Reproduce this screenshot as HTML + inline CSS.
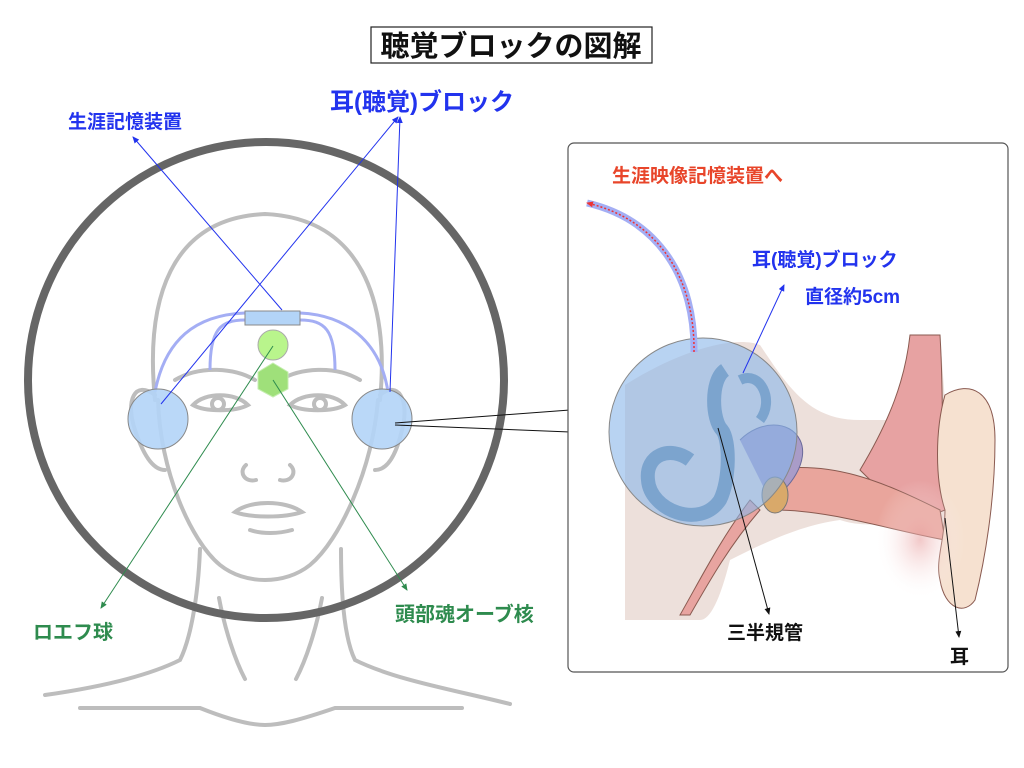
<!DOCTYPE html>
<html><head><meta charset="utf-8"><style>
html,body{margin:0;padding:0;background:#fff;}
svg{display:block;font-family:"Liberation Sans","Noto Sans CJK JP",sans-serif;font-weight:bold;}
</style></head><body>
<svg width="1024" height="768" viewBox="0 0 1024 768" xmlns="http://www.w3.org/2000/svg">
<defs>
<marker id="ab" markerWidth="8" markerHeight="8" refX="6" refY="4" orient="auto" markerUnits="userSpaceOnUse"><path d="M0,1 L7,4 L0,7z" fill="#2233ee"/></marker>
<marker id="ag" markerWidth="8" markerHeight="8" refX="6" refY="4" orient="auto" markerUnits="userSpaceOnUse"><path d="M0,1 L7,4 L0,7z" fill="#2e8b4e"/></marker>
<marker id="ak" markerWidth="8" markerHeight="8" refX="6" refY="4" orient="auto" markerUnits="userSpaceOnUse"><path d="M0,1 L7,4 L0,7z" fill="#111"/></marker>
<marker id="ar" markerWidth="8" markerHeight="8" refX="6" refY="4" orient="auto" markerUnits="userSpaceOnUse"><path d="M0,1 L7,4 L0,7z" fill="#e33"/></marker>
<radialGradient id="pk" cx="0.5" cy="0.5" r="0.5"><stop offset="0" stop-color="#e9a4a4"/><stop offset="1" stop-color="#fff" stop-opacity="0"/></radialGradient>
</defs>

<rect x="371" y="27" width="281" height="36" fill="#fff" stroke="#222" stroke-width="1.2"/>
<text x="511" y="56" font-size="29" text-anchor="middle" fill="#111">聴覚ブロックの図解</text>

<g fill="none" stroke="#bdbdbd" stroke-width="4" stroke-linecap="round">
<path d="M155,400 C145,300 170,218 265,214 C360,218 390,300 380,400"/>
<path d="M158,400 C160,470 190,540 220,565 C245,585 285,585 310,565 C340,540 372,470 378,400"/>
<path d="M155,395 C135,380 125,400 135,430 C145,460 155,470 165,470"/>
<path d="M380,395 C398,380 410,400 402,430 C395,460 385,470 375,470"/>
<path d="M175,380 C200,365 235,368 255,380"/>
<path d="M280,380 C300,368 335,365 360,380"/>
<path d="M193,405 C205,392 235,392 248,405 C235,412 205,412 193,405z"/>
<circle cx="218" cy="404" r="6"/>
<path d="M290,405 C303,392 333,392 345,405 C333,412 303,412 290,405z"/>
<circle cx="320" cy="404" r="6"/>
<path d="M246,465 C238,472 245,483 256,480"/>
<path d="M290,465 C298,472 291,483 280,480"/>
<path d="M235,512 C250,500 285,500 302,512 C285,518 250,518 235,512z"/>
<path d="M250,530 C262,534 278,534 292,530"/>
<path d="M200,549 C198,600 190,640 180,660 C140,680 80,690 45,695"/>
<path d="M341,549 C341,600 345,640 355,660 C395,680 455,690 510,704"/>
<path d="M219,598 C225,630 235,660 245,679"/>
<path d="M322,598 C316,630 306,660 296,679"/>
<path d="M80,708 L200,708 C230,720 250,725 265,725 C280,725 300,720 335,708 L462,708"/>
</g>
<circle cx="266" cy="380" r="238" fill="none" stroke="#666" stroke-width="8"/>

<g fill="none" stroke="#a4aef4" stroke-width="3">
<path d="M155,392 C165,340 195,315 245,313"/>
<path d="M210,370 C210,330 220,320 245,320"/>
<path d="M388,392 C380,340 345,315 300,313"/>
<path d="M335,370 C335,330 325,320 300,320"/>
</g>
<rect x="245" y="311" width="55" height="14" fill="#b3d4f7" stroke="#888" stroke-width="1"/>
<circle cx="158" cy="419" r="30" fill="#b3d4f7" fill-opacity="0.9" stroke="#888" stroke-width="1"/>
<circle cx="382" cy="419" r="30" fill="#b3d4f7" fill-opacity="0.9" stroke="#888" stroke-width="1"/>
<circle cx="273" cy="345" r="15" fill="#b9f58c" stroke="#aaa" stroke-width="1"/>
<polygon points="273,363 288,372 288,389 273,397 258,389 258,372" fill="#9fe07a" stroke="#c5eeb0" stroke-width="1"/>

<g stroke="#2233ee" stroke-width="1" fill="none">
<line x1="282" y1="310" x2="133" y2="137" marker-end="url(#ab)"/>
<line x1="161" y1="404" x2="398" y2="117" marker-end="url(#ab)"/>
<line x1="390" y1="392" x2="400" y2="117" marker-end="url(#ab)"/>
</g>
<g stroke="#2e8b4e" stroke-width="1">
<line x1="273" y1="346" x2="101" y2="608" marker-end="url(#ag)"/>
<line x1="273" y1="380" x2="407" y2="590" marker-end="url(#ag)"/>
</g>
<g stroke="#111" stroke-width="1">
<line x1="395" y1="423" x2="570" y2="410"/>
<line x1="395" y1="425" x2="570" y2="432"/>
</g>

<text x="68" y="128" font-size="19" fill="#2233ee">生涯記憶装置</text>
<text x="330" y="110" font-size="24" fill="#2233ee">耳(聴覚)ブロック</text>
<text x="33" y="639" font-size="20" fill="#2e8b4e">ロエフ球</text>
<text x="395" y="621" font-size="20" fill="#2e8b4e">頭部魂オーブ核</text>

<rect x="568" y="143" width="440" height="529" rx="6" fill="#fff" stroke="#555" stroke-width="1.2"/>
<path d="M625,385 C680,350 735,335 760,345 C790,390 810,420 860,420 L895,420 C910,390 915,350 910,340 L940,335 C945,400 950,480 960,540 L930,520 C900,520 870,530 840,520 C800,525 760,545 730,560 C720,600 710,620 700,620 L625,620 Z" fill="#ede0db"/>
<path d="M910,335 L940,335 C945,420 940,470 945,510 L920,520 C890,500 870,480 860,470 C890,420 905,380 910,335z" fill="#e7a2a2" stroke="#8a5a50" stroke-width="1"/>
<path d="M770,470 C830,460 880,480 940,510 L945,540 C890,530 830,510 775,510 Z" fill="#e9a59c" stroke="#8a5a50" stroke-width="1"/>
<path d="M750,500 C720,540 700,580 680,615 L690,615 C710,580 730,545 760,510z" fill="#e8a4a0" stroke="#8a5a50" stroke-width="1"/>
<path d="M945,395 C970,380 995,390 995,440 C995,500 985,560 975,600 C965,615 945,610 940,580 C935,560 945,540 945,510 C935,480 935,430 945,395z" fill="#f6e1d0" stroke="#8a5a50" stroke-width="1"/>
<ellipse cx="920" cy="540" rx="45" ry="60" fill="url(#pk)" opacity="0.6"/>
<path d="M725,370 C710,380 712,420 722,430 C730,440 730,480 720,500 C700,530 650,510 648,480 C645,455 670,445 690,460" fill="none" stroke="#6a8aa6" stroke-width="14"/>
<path d="M740,380 C760,370 775,400 760,420" fill="none" stroke="#6a8aa6" stroke-width="10"/>
<path d="M740,440 C760,420 790,420 800,440 C810,460 790,490 770,500" fill="#a99cc8" stroke="#6a6a9a" stroke-width="1"/>
<ellipse cx="775" cy="495" rx="13" ry="18" fill="#d9a96a" stroke="#777" stroke-width="1"/>
<circle cx="703" cy="432" r="94" fill="#88b6ea" fill-opacity="0.6" stroke="#888" stroke-width="1"/>
<path d="M694,352 C695,280 660,220 587,203" fill="none" stroke="#a4aef4" stroke-width="7"/>
<path d="M694,352 C695,280 660,220 587,203" fill="none" stroke="#e33" stroke-width="1.5" stroke-dasharray="2,2" marker-end="url(#ar)"/>
<line x1="743" y1="373" x2="784" y2="285" stroke="#2233ee" stroke-width="1" marker-end="url(#ab)"/>
<line x1="718" y1="428" x2="769" y2="614" stroke="#111" stroke-width="1" marker-end="url(#ak)"/>
<line x1="945" y1="518" x2="959" y2="637" stroke="#111" stroke-width="1" marker-end="url(#ak)"/>

<text x="612" y="182" font-size="19" fill="#e8452a">生涯映像記憶装置へ</text>
<text x="752" y="266" font-size="19" fill="#2233ee">耳(聴覚)ブロック</text>
<text x="805" y="303" font-size="19" fill="#2233ee">直径約5cm</text>
<text x="727" y="639" font-size="19" fill="#111">三半規管</text>
<text x="950" y="663" font-size="19" fill="#111">耳</text>
</svg>
</body></html>
